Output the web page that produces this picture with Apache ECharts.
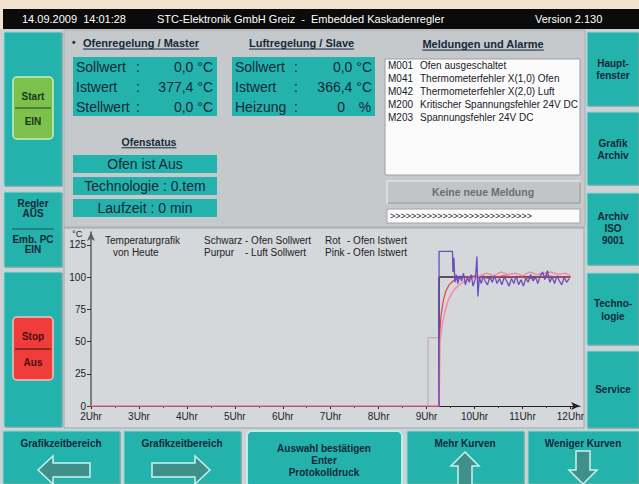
<!DOCTYPE html>
<html><head><meta charset="utf-8">
<script src="https://cdn.jsdelivr.net/npm/echarts@6/dist/echarts.min.js"></script>
<style>html,body{margin:0;padding:0;background:#f1e4cf}#c{width:639px;height:484px}</style>
</head><body><div id="c"></div>
<script>
// ---------- data ----------
const hourTicks = [2,3,4,5,6,7,8,9,10,11,12];
const tempTicks = [0,25,50,75,100,125];

const ofenSollT = [9.26, 9.26, 12.0];
const ofenSollV = [0, 100, 100];

const ofenIstT = [2,9.26,9.27,9.30,9.35,9.40,9.47,9.55,9.65,9.80,10.0,10.3,10.6,10.9,11.2,11.5,11.8,12.0];
const ofenIstV = [0,0,55,70,82,89,94,97,99,100,101,99,101,100,99,101,100,100];

const pinkT = [2,9.26,9.28,9.32,9.38,9.45,9.55,9.65,9.80,9.95,10.1,10.25,10.4,10.55,10.7,10.85,11.0,11.15,11.3,11.45,11.6,11.75,11.9,12.0];
const pinkV = [0,0,50,62,73,82,89,93,97,99,101,103,101,104,102,103,101,104,102,103,104,102,103,101];

const luftSollT = [9.26,9.26,9.54,9.55,9.57,9.59,9.62,9.65,9.69,9.73,9.77,9.81,9.85,9.89,9.93,9.97,10.02,10.05,10.07,10.10,10.14,10.18,10.22,10.27,10.32,10.37,10.42,10.47,10.52,10.57,10.62,10.67,10.72,10.77,10.82,10.87,10.92,10.97,11.02,11.07,11.12,11.17,11.22,11.27,11.32,11.37,11.42,11.47,11.52,11.57,11.62,11.67,11.72,11.77,11.82,11.87,11.92,11.98];
const luftSollV = [0,120,120,104,115,96,102,95,101,97,103,94,100,96,102,93,99,116,85,100,95,101,97,94,100,96,101,95,99,94,100,97,93,99,95,101,94,98,93,99,96,102,97,100,95,101,104,98,105,96,100,95,101,97,94,100,96,99];

const greyT = [9.03, 9.03, 9.26];
const greyV = [0, 53, 53];

const messagesCode = ['M001','M041','M042','M200','M203'];
const messagesText = ['Ofen ausgeschaltet','Thermometerfehler X(1,0) Ofen','Thermometerfehler X(2,0) Luft','Kritischer Spannungsfehler 24V DC','Spannungsfehler 24V DC'];

// ---------- helpers ----------
const zip = (t, v) => t.map((x, i) => [x, v[i]]);
const FONT = '"Liberation Sans", Arial, sans-serif';
const TEAL = '#23b3ac';
const INK = '#14283a';
const G = [];
const mctx = document.createElement('canvas').getContext('2d');
function tw(t, font){ mctx.font = font; return mctx.measureText(t).width; }
function rect(x,y,w,h,fill,stroke,lw,r){
  G.push({type:'rect',silent:true,shape:{x:x,y:y,width:w,height:h,r:r||0},style:{fill:fill,stroke:stroke||null,lineWidth:lw||0}});
}
function line(x1,y1,x2,y2,stroke,lw){
  G.push({type:'line',silent:true,shape:{x1:x1,y1:y1,x2:x2,y2:y2},style:{stroke:stroke,lineWidth:lw||1}});
}
function text(t,x,y,size,opts){
  opts = opts || {};
  const font = (opts.bold ? 'bold ' : '') + size + 'px ' + FONT;
  const align = opts.align || 'left';
  G.push({type:'text',silent:true,style:{legacy:false,text:t,x:x,y:y,font:font,fill:opts.color||INK,
    align:align,verticalAlign:'middle'}});
  if (opts.underline){
    const w = tw(t, font);
    let x0 = align==='center' ? x - w/2 : (align==='right' ? x - w : x);
    line(x0, y + size*0.55, x0 + w, y + size*0.55, opts.color||INK, 1);
  }
}
function poly(pts, fill, stroke, lw){
  G.push({type:'polygon',silent:true,shape:{points:pts},style:{fill:fill,stroke:stroke,lineWidth:lw||1}});
}
function tealBtn(x,y,w,h,r){ rect(x,y,w,h,TEAL,'#8fdad4',1,r||0); line(x+w,y+1,x+w,y+h,'#5a8e8c',1); line(x+1,y+h,x+w,y+h,'#5a8e8c',1); }

// ---------- background / frame ----------
rect(0,0,639,484,'#f1e4cf');
rect(0,29,639,455,'#cfd2d5');
rect(3,9,636,20,'#0b0b0b');
text('14.09.2009  14:01:28',22,19,11,{color:'#ffffff'});
text('STC-Elektronik GmbH Greiz  -  Embedded Kaskadenregler',157,19,11,{color:'#ffffff'});
text('Version 2.130',535,19,11,{color:'#ffffff'});

// info area and chart area
rect(64,30,521,197,'#c6c9cc','#a9adb0',1);
rect(64,228,520,200,'#d5d8db','#9ea3a7',1);

// ---------- left column ----------
tealBtn(4,32,58,154);
rect(13,77,40,62,'#7cc14b','#cdeec0',1.5,4);
line(15,108,51,108,'#3d6b2b',1.5);
text('Start',33,96,10,{bold:true,align:'center',color:'#183818'});
text('EIN',33,121,10,{bold:true,align:'center',color:'#183818'});

tealBtn(4,192,58,75);
text('Regler',33,203,10,{bold:true,align:'center'});
text('AUS',33,213,10,{bold:true,align:'center'});
line(12,229,54,229,'#2a5060',1);
text('Emb. PC',33,239,10,{bold:true,align:'center'});
text('EIN',33,249,10,{bold:true,align:'center'});

tealBtn(4,272,58,155);
rect(13,317,40,63,'#ee3d3b','#f7c3c0',1.5,4);
line(15,349,51,349,'#7a1c1c',1.5);
text('Stop',33,336,10,{bold:true,align:'center',color:'#4a0c0c'});
text('Aus',33,362,10,{bold:true,align:'center',color:'#4a0c0c'});

// ---------- right column ----------
tealBtn(587,32,52,74);
text('Haupt-',613,63,10,{bold:true,align:'center'});
text('fenster',613,75,10,{bold:true,align:'center'});
tealBtn(587,112,52,73);
text('Grafik',613,143,10,{bold:true,align:'center'});
text('Archiv',613,155,10,{bold:true,align:'center'});
tealBtn(587,193,52,72);
text('Archiv',613,216,10,{bold:true,align:'center'});
text('ISO',613,228,10,{bold:true,align:'center'});
text('9001',613,240,10,{bold:true,align:'center'});
tealBtn(587,273,52,72);
text('Techno-',613,303,10,{bold:true,align:'center'});
text('logie',613,316,10,{bold:true,align:'center'});
tealBtn(587,351,52,77);
text('Service',613,389,10,{bold:true,align:'center'});

// ---------- bottom buttons ----------
tealBtn(3,431,117,53);
text('Grafikzeitbereich',61,443,10,{bold:true,align:'center'});
poly([[38,470],[53,456],[53,463],[90,463],[90,477],[53,477],[53,484]],'#3f8f8b','#c9f3ee',1.5);
tealBtn(124,431,117,53);
text('Grafikzeitbereich',182,443,10,{bold:true,align:'center'});
poly([[210,470],[195,456],[195,463],[152,463],[152,477],[195,477],[195,484]],'#3f8f8b','#c9f3ee',1.5);
rect(247,431,155,56,TEAL,'#b9efe9',2,5);
text('Auswahl bestätigen',324,448,10,{bold:true,align:'center'});
text('Enter',324,460,10,{bold:true,align:'center'});
text('Protokolldruck',324,472,10,{bold:true,align:'center'});
tealBtn(407,431,117,53);
text('Mehr Kurven',465,443,10,{bold:true,align:'center'});
poly([[465,452],[479,466],[472,466],[472,486],[458,486],[458,466],[451,466]],'#3f8f8b','#c9f3ee',1.5);
tealBtn(528,431,111,53);
text('Weniger Kurven',583,443,10,{bold:true,align:'center'});
poly([[583,484],[597,470],[590,470],[590,451],[576,451],[576,470],[569,470]],'#3f8f8b','#c9f3ee',1.5);

// ---------- master / slave ----------
text('•',72,42,10,{bold:true});
text('Ofenregelung / Master',83,43,11,{bold:true,underline:true});
text('Luftregelung / Slave',249,43,11,{bold:true,underline:true});

rect(73,57,144,59,TEAL);
text('Sollwert',76,67,14); text(':',136,67,14); text('0,0 °C',213,67,14,{align:'right'});
text('Istwert',76,87,14); text(':',136,87,14); text('377,4 °C',213,87,14,{align:'right'});
text('Stellwert',76,107,14); text(':',136,107,14); text('0,0 °C',213,107,14,{align:'right'});

rect(232,57,143,59,TEAL);
text('Sollwert',235,67,14); text(':',294,67,14); text('0,0 °C',372,67,14,{align:'right'});
text('Istwert',235,87,14); text(':',294,87,14); text('366,4 °C',372,87,14,{align:'right'});
text('Heizung',235,107,14); text(':',294,107,14); text('0',345,107,14,{align:'right'}); text('%',365,107,14,{align:'center'});

text('Ofenstatus',149,142,10.5,{bold:true,align:'center',underline:true});
rect(73,155,144,18,TEAL); text('Ofen ist Aus',145,164,14,{align:'center'});
rect(73,177,144,18,TEAL); text('Technologie : 0.tem',145,186,14,{align:'center'});
rect(73,199,144,18,TEAL); text('Laufzeit : 0 min',145,208,14,{align:'center'});

// ---------- messages ----------
text('Meldungen und Alarme',483,44,11,{bold:true,align:'center',underline:true});
rect(385,59,195,116,'#fbfbfb','#9aa0a4',1);
messagesCode.forEach((c,i)=>{
  text(c,388,65+i*13,10,{color:'#1a1a2a'});
  text(messagesText[i],420,65+i*13,10,{color:'#1a1a2a'});
});
rect(387,181,193,22,'#c3c4c5','#eeeeee',1);
line(388,203,580,203,'#808486',1); line(580,182,580,203,'#808486',1);
text('Keine neue Meldung',483,192,10.5,{bold:true,align:'center',color:'#6b6d6f'});
rect(387,209,193,14,'#fbfbfb','#a0a4a8',1);
text('>>>>>>>>>>>>>>>>>>>>>>>>>>>',390,216,9,{color:'#222222'});

// ---------- chart annotations ----------
text('°C',72,233,9.5,{color:'#222'});
text('Temperaturgrafik',105,240,10,{color:'#222'});
text('von Heute',113,252,10,{color:'#222'});
text('Schwarz',204,240,10,{color:'#222'});
text('- Ofen Sollwert',245,240,10,{color:'#222'});
text('Purpur',204,252,10,{color:'#222'});
text('- Luft Sollwert',245,252,10,{color:'#222'});
text('Rot',325,240,10,{color:'#222'});
text('- Ofen Istwert',347,240,10,{color:'#222'});
text('Pink',325,252,10,{color:'#222'});
text('- Ofen Istwert',347,252,10,{color:'#222'});

// ---------- chart ----------
const chart = echarts.init(document.getElementById('c'), null, {renderer:'svg', width:639, height:484});
const axisLbl = {fontSize:10, color:'#222', fontFamily:FONT};
chart.setOption({
  animation:false,
  backgroundColor:'#f1e4cf',
  graphic: G,
  grid:{left:91,right:59,top:232,bottom:78},
  xAxis:{
    type:'value', min:2, max:12.2, interval:1,
    axisLine:{show:true, symbol:['none','arrow'], symbolSize:[6,9], lineStyle:{color:'#222', width:1}},
    axisTick:{show:true, length:3, customValues:hourTicks, lineStyle:{color:'#222'}},
    minorTick:{show:true, splitNumber:2, length:2, lineStyle:{color:'#444'}},
    axisLabel:Object.assign({customValues:hourTicks, formatter:v=>v+'Uhr', margin:5}, axisLbl),
    splitLine:{show:false}
  },
  yAxis:{
    type:'value', min:0, max:135, interval:25,
    axisLine:{show:true, symbol:['none','arrow'], symbolSize:[6,9], lineStyle:{color:'#5a5e62', width:1.5}},
    axisTick:{show:true, length:4, customValues:tempTicks, lineStyle:{color:'#333'}},
    axisLabel:Object.assign({customValues:tempTicks, margin:5}, axisLbl),
    splitLine:{show:false}
  },
  series:[
    {type:'line', name:'grau', data:zip(greyT,greyV), showSymbol:false, lineStyle:{color:'#b7a6ae', width:1}},
    {type:'line', name:'Ofen Sollwert', data:zip(ofenSollT,ofenSollV), showSymbol:false, lineStyle:{color:'#2a2a2a', width:1.5}},
    {type:'line', name:'Ofen Istwert', data:zip(ofenIstT,ofenIstV), showSymbol:false, lineStyle:{color:'#e0404e', width:1.2}},
    {type:'line', name:'Ofen Istwert 2', data:zip(pinkT,pinkV), showSymbol:false, lineStyle:{color:'#f08ca8', width:1.5}},
    {type:'line', name:'Luft Sollwert', data:zip(luftSollT,luftSollV), showSymbol:false, lineStyle:{color:'#6a4cbc', width:1.3}}
  ]
});
</script>
</body></html>
